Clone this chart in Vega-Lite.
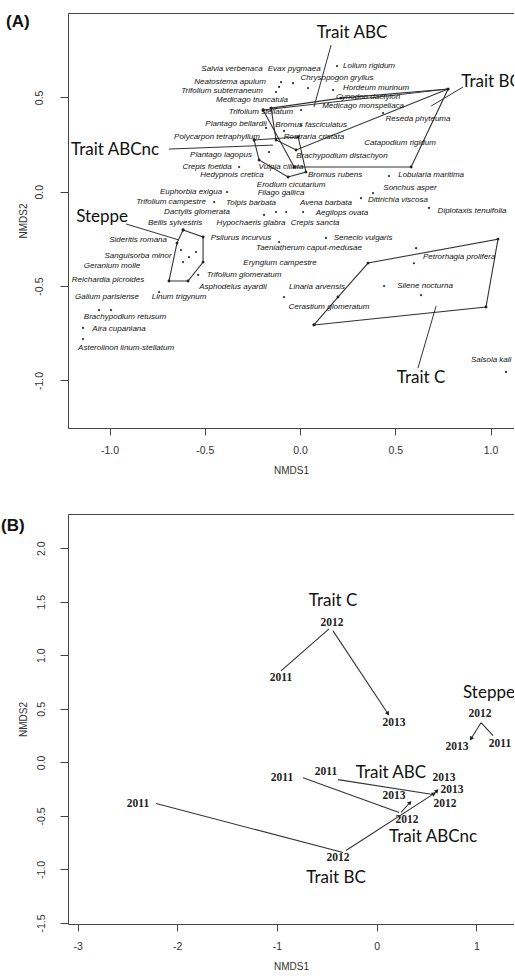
{
  "$schema": "https://vega.github.io/schema/vega-lite/v6.json",
  "padding": {"left": 0, "top": 13, "right": 0, "bottom": 0},
  "spacing": 38,
  "config": {
    "view": {"stroke": null},
    "axis": {"labelFont": "Liberation Sans", "labelFontSize": 10.5, "labelColor": "#333", "titleFont": "Liberation Sans", "titleFontSize": 10, "titleFontWeight": "normal", "titleColor": "#333", "domainColor": "#444", "tickColor": "#444", "grid": false}
  },
  "datasets": {
    "speciesA": [
      {"sp": "Salvia verbenaca", "x": -0.357, "y": 0.650},
      {"sp": "Evax pygmaea", "x": -0.031, "y": 0.650},
      {"sp": "Lolium rigidum", "x": 0.362, "y": 0.664},
      {"sp": "Neatostema apulum", "x": -0.367, "y": 0.583},
      {"sp": "Chrysopogon gryllus", "x": 0.194, "y": 0.600},
      {"sp": "Hordeum murinum", "x": 0.399, "y": 0.548},
      {"sp": "Trifolium subterraneum", "x": -0.409, "y": 0.534},
      {"sp": "Medicago truncatula", "x": -0.252, "y": 0.484},
      {"sp": "Cynodon dactylon", "x": 0.357, "y": 0.502},
      {"sp": "Medicago monspeliaca", "x": 0.331, "y": 0.455},
      {"sp": "Trifolium stellatum", "x": -0.205, "y": 0.420},
      {"sp": "Reseda phyteuma", "x": 0.619, "y": 0.385},
      {"sp": "Plantago bellardii", "x": -0.336, "y": 0.359},
      {"sp": "Bromus fasciculatus", "x": 0.058, "y": 0.353},
      {"sp": "Polycarpon tetraphyllum", "x": -0.436, "y": 0.290},
      {"sp": "Rostraria cristata", "x": 0.073, "y": 0.290},
      {"sp": "Catapodium rigidum", "x": 0.525, "y": 0.258},
      {"sp": "Plantago lagopus", "x": -0.415, "y": 0.194},
      {"sp": "Brachypodium distachyon", "x": 0.220, "y": 0.189},
      {"sp": "Crepis foetida", "x": -0.488, "y": 0.131},
      {"sp": "Vulpia ciliata", "x": -0.100, "y": 0.131},
      {"sp": "Hedypnois cretica", "x": -0.357, "y": 0.088},
      {"sp": "Bromus rubens", "x": 0.184, "y": 0.088},
      {"sp": "Lobularia maritima", "x": 0.688, "y": 0.088},
      {"sp": "Erodium cicutarium", "x": -0.047, "y": 0.035},
      {"sp": "Sonchus asper", "x": 0.577, "y": 0.020},
      {"sp": "Euphorbia exigua", "x": -0.572, "y": -0.002},
      {"sp": "Filago gallica", "x": -0.100, "y": -0.007},
      {"sp": "Dittrichia viscosa", "x": 0.514, "y": -0.044},
      {"sp": "Trifolium campestre", "x": -0.677, "y": -0.055},
      {"sp": "Tolpis barbata", "x": -0.257, "y": -0.060},
      {"sp": "Avena barbata", "x": 0.136, "y": -0.060},
      {"sp": "Diplotaxis tenuifolia", "x": 0.903, "y": -0.102},
      {"sp": "Dactylis glomerata", "x": -0.541, "y": -0.108},
      {"sp": "Aegilops ovata", "x": 0.220, "y": -0.113},
      {"sp": "Bellis sylvestris", "x": -0.656, "y": -0.166},
      {"sp": "Hypochaeris glabra", "x": -0.257, "y": -0.166},
      {"sp": "Crepis sancta", "x": 0.079, "y": -0.166},
      {"sp": "Psilurus incurvus", "x": -0.310, "y": -0.245},
      {"sp": "Senecio vulgaris", "x": 0.331, "y": -0.245},
      {"sp": "Sideritis romana", "x": -0.850, "y": -0.256},
      {"sp": "Taeniatherum caput-medusae", "x": 0.047, "y": -0.298},
      {"sp": "Sanguisorba minor", "x": -0.850, "y": -0.341},
      {"sp": "Petrorhagia prolifera", "x": 0.835, "y": -0.347},
      {"sp": "Eryngium campestre", "x": -0.105, "y": -0.378},
      {"sp": "Geranium molle", "x": -0.987, "y": -0.394},
      {"sp": "Trifolium glomeratum", "x": -0.294, "y": -0.441},
      {"sp": "Reichardia picroides", "x": -1.008, "y": -0.468},
      {"sp": "Asphodelus ayardii", "x": -0.352, "y": -0.505},
      {"sp": "Linaria arvensis", "x": 0.089, "y": -0.505},
      {"sp": "Silene nocturna", "x": 0.656, "y": -0.500},
      {"sp": "Galium parisiense", "x": -1.013, "y": -0.558},
      {"sp": "Linum trigynum", "x": -0.635, "y": -0.558},
      {"sp": "Cerastium glomeratum", "x": 0.152, "y": -0.611},
      {"sp": "Brachypodium retusum", "x": -0.919, "y": -0.664},
      {"sp": "Aira cupaniana", "x": -0.950, "y": -0.728},
      {"sp": "Asterolinon linum-stellatum", "x": -0.913, "y": -0.829},
      {"sp": "Salsola kali", "x": 1.003, "y": -0.892}
    ],
    "dotsA": [
      {"x": 0.194, "y": 0.666}, {"x": -0.100, "y": 0.581}, {"x": -0.037, "y": 0.575},
      {"x": -0.126, "y": 0.528}, {"x": -0.110, "y": 0.555}, {"x": 0.042, "y": 0.549},
      {"x": 0.173, "y": 0.539}, {"x": 0.436, "y": 0.417}, {"x": 0.005, "y": 0.433},
      {"x": -0.178, "y": 0.338}, {"x": -0.084, "y": 0.322}, {"x": 0.005, "y": 0.353},
      {"x": -0.163, "y": 0.210}, {"x": -0.320, "y": 0.131}, {"x": 0.467, "y": 0.083},
      {"x": 0.383, "y": -0.007}, {"x": -0.383, "y": -0.002}, {"x": 0.320, "y": -0.034},
      {"x": -0.451, "y": -0.055}, {"x": 0.677, "y": -0.086}, {"x": -0.189, "y": -0.123},
      {"x": -0.126, "y": -0.108}, {"x": -0.073, "y": -0.108}, {"x": 0.016, "y": -0.108},
      {"x": 0.136, "y": -0.245}, {"x": -0.110, "y": -0.267}, {"x": 0.609, "y": -0.299},
      {"x": 0.598, "y": -0.379}, {"x": -0.535, "y": -0.441}, {"x": 0.441, "y": -0.500},
      {"x": 0.635, "y": -0.548}, {"x": -0.740, "y": -0.532}, {"x": -0.084, "y": -0.558},
      {"x": -1.055, "y": -0.627}, {"x": -0.992, "y": -0.627}, {"x": -1.139, "y": -0.722},
      {"x": -1.139, "y": -0.781}, {"x": 1.081, "y": -0.955},
      {"x": -0.625, "y": -0.309}, {"x": -0.583, "y": -0.347}, {"x": -0.546, "y": -0.320}, {"x": -0.614, "y": -0.373}
    ],
    "hullsA": [
      {"group": "Steppe", "k": 1, "x": -0.614, "y": -0.203},
      {"group": "Steppe", "k": 2, "x": -0.509, "y": -0.240},
      {"group": "Steppe", "k": 3, "x": -0.509, "y": -0.373},
      {"group": "Steppe", "k": 4, "x": -0.588, "y": -0.473},
      {"group": "Steppe", "k": 5, "x": -0.688, "y": -0.473},
      {"group": "Steppe", "k": 6, "x": -0.646, "y": -0.272},
      {"group": "Steppe", "k": 7, "x": -0.614, "y": -0.203},
      {"group": "Trait C", "k": 1, "x": 0.073, "y": -0.706},
      {"group": "Trait C", "k": 2, "x": 0.199, "y": -0.558},
      {"group": "Trait C", "k": 3, "x": 0.357, "y": -0.378},
      {"group": "Trait C", "k": 4, "x": 1.039, "y": -0.251},
      {"group": "Trait C", "k": 5, "x": 0.976, "y": -0.611},
      {"group": "Trait C", "k": 6, "x": 0.073, "y": -0.706},
      {"group": "Trait BC", "k": 1, "x": -0.194, "y": 0.433},
      {"group": "Trait BC", "k": 2, "x": 0.777, "y": 0.544},
      {"group": "Trait BC", "k": 3, "x": 0.583, "y": 0.131},
      {"group": "Trait BC", "k": 4, "x": -0.031, "y": 0.131},
      {"group": "Trait BC", "k": 5, "x": -0.194, "y": 0.433},
      {"group": "Trait ABC", "k": 1, "x": -0.152, "y": 0.443},
      {"group": "Trait ABC", "k": 2, "x": 0.215, "y": 0.496},
      {"group": "Trait ABC", "k": 3, "x": 0.777, "y": 0.544},
      {"group": "Trait ABC", "k": 4, "x": -0.021, "y": 0.221},
      {"group": "Trait ABC", "k": 5, "x": -0.126, "y": 0.274},
      {"group": "Trait ABC", "k": 6, "x": -0.152, "y": 0.443},
      {"group": "Trait ABCnc", "k": 1, "x": -0.241, "y": 0.274},
      {"group": "Trait ABCnc", "k": 2, "x": -0.010, "y": 0.290},
      {"group": "Trait ABCnc", "k": 3, "x": 0.031, "y": 0.104},
      {"group": "Trait ABCnc", "k": 4, "x": -0.063, "y": 0.078},
      {"group": "Trait ABCnc", "k": 5, "x": -0.215, "y": 0.168},
      {"group": "Trait ABCnc", "k": 6, "x": -0.241, "y": 0.274}
    ],
    "leadersA": [
      {"group": "Trait ABC", "x": 0.163, "y": 0.777, "x2": 0.073, "y2": 0.449},
      {"group": "Trait BC", "x": 0.856, "y": 0.555, "x2": 0.688, "y2": 0.454},
      {"group": "Trait ABCnc", "x": -0.688, "y": 0.226, "x2": -0.142, "y2": 0.247},
      {"group": "Steppe", "x": -0.913, "y": -0.171, "x2": -0.635, "y2": -0.256},
      {"group": "Trait C", "x": 0.619, "y": -0.934, "x2": 0.714, "y2": -0.606}
    ],
    "groupsA": [
      {"group": "Trait ABC", "x": 0.273, "y": 0.841},
      {"group": "Trait BC", "x": 1.003, "y": 0.581},
      {"group": "Trait ABCnc", "x": -0.971, "y": 0.220},
      {"group": "Steppe", "x": -1.039, "y": -0.134},
      {"group": "Trait C", "x": 0.635, "y": -0.987}
    ],
    "yearsB": [
      {"group": "Trait C", "year": "2011", "x": -0.960, "y": 0.790},
      {"group": "Trait C", "year": "2012", "x": -0.448, "y": 1.303},
      {"group": "Trait C", "year": "2013", "x": 0.174, "y": 0.370},
      {"group": "Steppe", "year": "2011", "x": 1.237, "y": 0.174},
      {"group": "Steppe", "year": "2012", "x": 1.036, "y": 0.454},
      {"group": "Steppe", "year": "2013", "x": 0.805, "y": 0.146},
      {"group": "Trait BC", "year": "2011", "x": -2.394, "y": -0.385},
      {"group": "Trait BC", "year": "2012", "x": -0.388, "y": -0.897},
      {"group": "Trait BC", "year": "2013", "x": 0.755, "y": -0.255},
      {"group": "Trait ABC", "year": "2011", "x": -0.508, "y": -0.087},
      {"group": "Trait ABC", "year": "2012", "x": 0.685, "y": -0.385},
      {"group": "Trait ABC", "year": "2013", "x": 0.675, "y": -0.143},
      {"group": "Trait ABCnc", "year": "2011", "x": -0.950, "y": -0.143},
      {"group": "Trait ABCnc", "year": "2012", "x": 0.304, "y": -0.535},
      {"group": "Trait ABCnc", "year": "2013", "x": 0.174, "y": -0.310}
    ],
    "segB": [
      {"group": "Trait C", "step": "2011-2012", "x": -0.960, "y": 0.855, "x2": -0.478, "y2": 1.247},
      {"group": "Trait C", "step": "2012-2013", "x": -0.438, "y": 1.228, "x2": 0.113, "y2": 0.454},
      {"group": "Steppe", "step": "2011-2012", "x": 1.168, "y": 0.249, "x2": 1.046, "y2": 0.370},
      {"group": "Steppe", "step": "2012-2013", "x": 1.046, "y": 0.370, "x2": 0.946, "y2": 0.221},
      {"group": "Trait BC", "step": "2011-2012", "x": -2.212, "y": -0.385, "x2": -0.338, "y2": -0.842},
      {"group": "Trait BC", "step": "2012-2013", "x": -0.308, "y": -0.824, "x2": 0.575, "y2": -0.292},
      {"group": "Trait ABC", "step": "2011-2012", "x": -0.388, "y": -0.161, "x2": 0.565, "y2": -0.301},
      {"group": "Trait ABC", "step": "2012-2013", "x": 0.565, "y": -0.301, "x2": 0.605, "y2": -0.264},
      {"group": "Trait ABCnc", "step": "2011-2012", "x": -0.739, "y": -0.143, "x2": 0.224, "y2": -0.468},
      {"group": "Trait ABCnc", "step": "2012-2013", "x": 0.244, "y": -0.468, "x2": 0.334, "y2": -0.375}
    ],
    "groupsB": [
      {"group": "Trait C", "x": -0.438, "y": 1.508},
      {"group": "Steppe", "x": 1.126, "y": 0.650},
      {"group": "Trait ABC", "x": 0.143, "y": -0.096},
      {"group": "Trait ABCnc", "x": 0.565, "y": -0.700},
      {"group": "Trait BC", "x": -0.408, "y": -1.084}
    ]
  },
  "vconcat": [
    {
      "width": 446,
      "height": 415,
      "resolve": {"axis": {"x": "independent"}},
      "layer": [
        {
          "data": {"name": "hullsA"},
          "mark": {"type": "line", "color": "#333", "strokeWidth": 1.1},
          "encoding": {
            "x": {"field": "x", "type": "quantitative", "scale": {"domain": [-1.218, 1.123], "nice": false, "zero": false},
              "axis": {"title": "NMDS1", "values": [-1, -0.5, 0, 0.5, 1], "labelExpr": "datum.value < 0 ? '-' + format(-datum.value, '.1f') : format(datum.value, '.1f')", "tickSize": 7, "labelPadding": 10, "titlePadding": 10}},
            "y": {"field": "y", "type": "quantitative", "scale": {"domain": [-1.252, 0.947], "nice": false, "zero": false},
              "axis": {"title": "NMDS2", "values": [-1, -0.5, 0, 0.5], "labelExpr": "datum.value < 0 ? '-' + format(-datum.value, '.1f') : format(datum.value, '.1f')", "labelAngle": 270, "tickSize": 8, "labelPadding": 16, "titlePadding": 6}},
            "detail": {"field": "group"},
            "order": {"field": "k"}
          }
        },
        {
          "data": {"name": "hullsA"},
          "mark": {"type": "point", "filled": true, "size": 8, "color": "#222", "opacity": 1},
          "encoding": {
            "x": {"field": "x", "type": "quantitative", "scale": {"domain": [-1.218, 1.123], "nice": false, "zero": false}, "axis": null},
            "y": {"field": "y", "type": "quantitative", "scale": {"domain": [-1.252, 0.947], "nice": false, "zero": false}}
          }
        },
        {
          "data": {"name": "leadersA"},
          "mark": {"type": "rule", "color": "#333", "strokeWidth": 1},
          "encoding": {
            "x": {"field": "x", "type": "quantitative", "scale": {"domain": [-1.218, 1.123], "nice": false, "zero": false},
              "axis": {"orient": "top", "labels": false, "ticks": false, "title": null, "domain": true}},
            "y": {"field": "y", "type": "quantitative", "scale": {"domain": [-1.252, 0.947], "nice": false, "zero": false}},
            "x2": {"field": "x2"},
            "y2": {"field": "y2"}
          }
        },
        {
          "data": {"name": "dotsA"},
          "mark": {"type": "point", "filled": true, "size": 5, "color": "#333", "opacity": 1},
          "encoding": {
            "x": {"field": "x", "type": "quantitative", "scale": {"domain": [-1.218, 1.123], "nice": false, "zero": false}, "axis": null},
            "y": {"field": "y", "type": "quantitative", "scale": {"domain": [-1.252, 0.947], "nice": false, "zero": false}}
          }
        },
        {
          "data": {"name": "speciesA"},
          "mark": {"type": "text", "font": "Liberation Sans", "fontStyle": "italic", "fontSize": 8, "color": "#111", "clip": true},
          "encoding": {
            "x": {"field": "x", "type": "quantitative", "scale": {"domain": [-1.218, 1.123], "nice": false, "zero": false}, "axis": null},
            "y": {"field": "y", "type": "quantitative", "scale": {"domain": [-1.252, 0.947], "nice": false, "zero": false}},
            "text": {"field": "sp"}
          }
        },
        {
          "data": {"name": "groupsA"},
          "mark": {"type": "text", "font": "Lato", "fontSize": 17, "color": "#111", "clip": true},
          "encoding": {
            "x": {"field": "x", "type": "quantitative", "scale": {"domain": [-1.218, 1.123], "nice": false, "zero": false}, "axis": null},
            "y": {"field": "y", "type": "quantitative", "scale": {"domain": [-1.252, 0.947], "nice": false, "zero": false}},
            "text": {"field": "group"}
          }
        },
        {
          "data": {"values": [{"lab": "(A)"}]},
          "mark": {"type": "text", "font": "Liberation Sans", "fontWeight": "bold", "fontSize": 17, "align": "left", "color": "#111"},
          "encoding": {
            "x": {"datum": -1.543, "type": "quantitative", "scale": {"domain": [-1.218, 1.123], "nice": false, "zero": false}, "axis": null},
            "y": {"datum": 0.899, "type": "quantitative", "scale": {"domain": [-1.252, 0.947], "nice": false, "zero": false}},
            "text": {"field": "lab"}
          }
        }
      ]
    },
    {
      "width": 446,
      "height": 410,
      "resolve": {"axis": {"x": "independent"}},
      "layer": [
        {
          "data": {"name": "segB"},
          "mark": {"type": "rule", "color": "#333", "strokeWidth": 1.1},
          "encoding": {
            "x": {"field": "x", "type": "quantitative", "scale": {"domain": [-3.096, 1.377], "nice": false, "zero": false},
              "axis": {"title": "NMDS1", "values": [-3, -2, -1, 0, 1], "labelExpr": "datum.value < 0 ? '-' + format(-datum.value, 'd') : format(datum.value, 'd')", "tickSize": 7, "labelPadding": 10, "titlePadding": 10}},
            "y": {"field": "y", "type": "quantitative", "scale": {"domain": [-1.51, 2.32], "nice": false, "zero": false},
              "axis": {"title": "NMDS2", "values": [-1.5, -1, -0.5, 0, 0.5, 1, 1.5, 2], "labelExpr": "datum.value < 0 ? '-' + format(-datum.value, '.1f') : format(datum.value, '.1f')", "labelAngle": 270, "tickSize": 8, "labelPadding": 14, "titlePadding": 8}},
            "x2": {"field": "x2"},
            "y2": {"field": "y2"}
          }
        },
        {
          "data": {"name": "segB"},
          "transform": [
            {"filter": "datum.step == '2012-2013'"},
            {"calculate": "atan2((datum.x2 - datum.x) * 99.7, (datum.y2 - datum.y) * 107.2) * 180 / PI", "as": "heading"}
          ],
          "mark": {"type": "point", "shape": "triangle-up", "filled": true, "size": 22, "color": "#222", "opacity": 1},
          "encoding": {
            "x": {"field": "x2", "type": "quantitative", "scale": {"domain": [-3.096, 1.377], "nice": false, "zero": false},
              "axis": {"orient": "top", "labels": false, "ticks": false, "title": null, "domain": true}},
            "y": {"field": "y2", "type": "quantitative", "scale": {"domain": [-1.51, 2.32], "nice": false, "zero": false}},
            "angle": {"field": "heading", "type": "quantitative", "scale": null}
          }
        },
        {
          "data": {"name": "yearsB"},
          "mark": {"type": "text", "font": "Liberation Serif", "fontWeight": "bold", "fontSize": 11.5, "color": "#222", "clip": true},
          "encoding": {
            "x": {"field": "x", "type": "quantitative", "scale": {"domain": [-3.096, 1.377], "nice": false, "zero": false}, "axis": null},
            "y": {"field": "y", "type": "quantitative", "scale": {"domain": [-1.51, 2.32], "nice": false, "zero": false}},
            "text": {"field": "year"}
          }
        },
        {
          "data": {"name": "groupsB"},
          "mark": {"type": "text", "font": "Lato", "fontSize": 17, "color": "#111", "clip": true},
          "encoding": {
            "x": {"field": "x", "type": "quantitative", "scale": {"domain": [-3.096, 1.377], "nice": false, "zero": false}, "axis": null},
            "y": {"field": "y", "type": "quantitative", "scale": {"domain": [-1.51, 2.32], "nice": false, "zero": false}},
            "text": {"field": "group"}
          }
        },
        {
          "data": {"values": [{"lab": "(B)"}]},
          "mark": {"type": "text", "font": "Liberation Sans", "fontWeight": "bold", "fontSize": 17, "align": "left", "color": "#111"},
          "encoding": {
            "x": {"datum": -3.768, "type": "quantitative", "scale": {"domain": [-3.096, 1.377], "nice": false, "zero": false}, "axis": null},
            "y": {"datum": 2.208, "type": "quantitative", "scale": {"domain": [-1.51, 2.32], "nice": false, "zero": false}},
            "text": {"field": "lab"}
          }
        }
      ]
    }
  ]
}
